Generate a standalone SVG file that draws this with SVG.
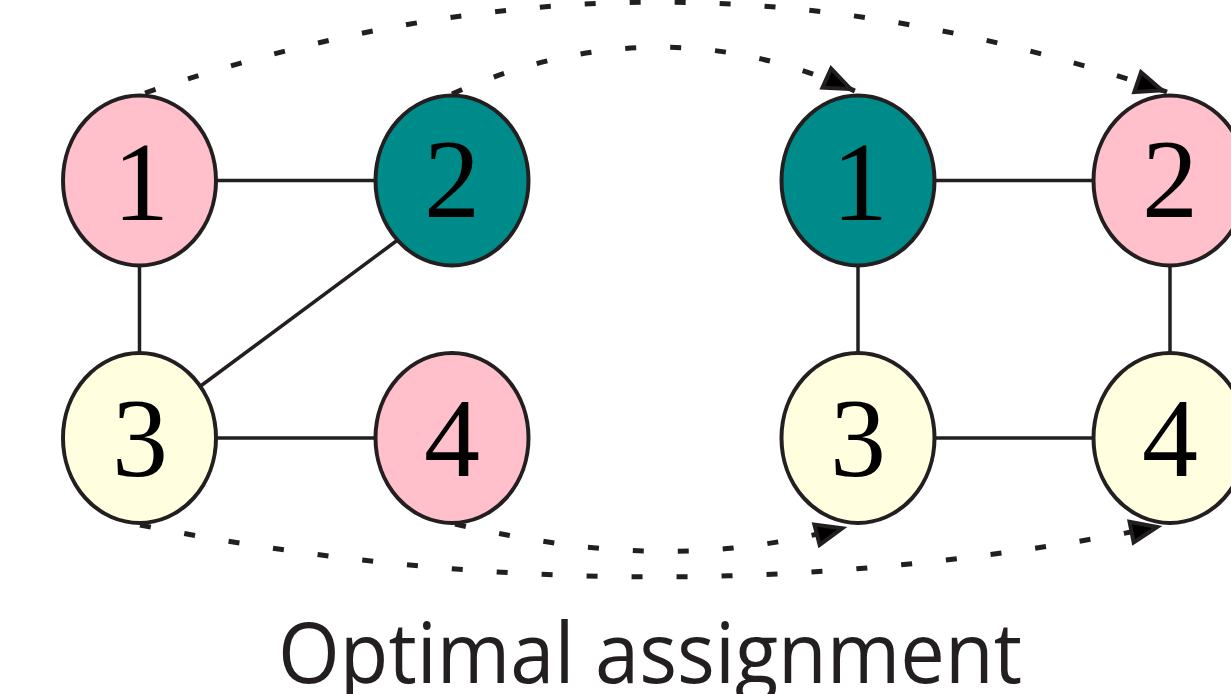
<svg xmlns="http://www.w3.org/2000/svg" width="1231" height="694" viewBox="0 0 1231 694">
<style>
.node{stroke:#231f20;stroke-width:4}
.pink{fill:#ffc0cb}
.teal{fill:#008b8b}
.yellow{fill:#ffffe0}
.lbl{font-family:"Liberation Serif","DejaVu Serif",serif;font-size:112px;fill:#000;text-anchor:middle}
.edge{stroke:#231f20;stroke-width:3.5;fill:none}
.dash{stroke:#231f20;stroke-width:5;fill:none;stroke-dasharray:11 34;marker-end:url(#arr)}
.title{font-family:"Open Sans","Noto Sans",sans-serif;font-size:84px;fill:#231f20}
</style>
<defs>
<marker id="arr" markerUnits="userSpaceOnUse" orient="auto" refX="0" refY="0" markerWidth="44" markerHeight="34" viewBox="-40 -17 44 34" overflow="visible">
<path d="M-5,0 L-31,-10.5 L-31,10.5 Z" fill="#000" stroke="#231f20" stroke-width="4" stroke-linejoin="miter" stroke-dasharray="none"/>
</marker>
</defs>
<rect width="1231" height="694" fill="#fff"/>
<g id="edges">
<line class="edge" x1="216" y1="180.5" x2="376" y2="180.5"/>
<line class="edge" x1="139.5" y1="264" x2="139.5" y2="354"/>
<line class="edge" x1="397" y1="240.5" x2="200" y2="386.5"/>
<line class="edge" x1="216" y1="438" x2="376" y2="438"/>
<line class="edge" x1="934" y1="180.5" x2="1094" y2="180.5"/>
<line class="edge" x1="858" y1="264" x2="858" y2="354"/>
<line class="edge" x1="1170" y1="264" x2="1170" y2="354"/>
<line class="edge" x1="934" y1="438" x2="1094" y2="438"/>
</g>
<g id="L1"><ellipse class="node pink" cx="139.5" cy="180.5" rx="76.5" ry="85"/><text class="lbl" x="141" y="220">1</text></g>
<g id="L2"><ellipse class="node teal" cx="452" cy="180.5" rx="76.5" ry="85"/><text class="lbl" x="452" y="217">2</text></g>
<g id="L3"><ellipse class="node yellow" cx="139.5" cy="438" rx="76.5" ry="85"/><text class="lbl" x="140" y="476">3</text></g>
<g id="L4"><ellipse class="node pink" cx="452" cy="438" rx="76.5" ry="85"/><text class="lbl" x="452" y="476">4</text></g>
<g id="R1"><ellipse class="node teal" cx="858" cy="180.5" rx="76.5" ry="85"/><text class="lbl" x="860" y="220">1</text></g>
<g id="R2"><ellipse class="node pink" cx="1170" cy="180.5" rx="76.5" ry="85"/><text class="lbl" x="1170" y="217">2</text></g>
<g id="R3"><ellipse class="node yellow" cx="858" cy="438" rx="76.5" ry="85"/><text class="lbl" x="858" y="476">3</text></g>
<g id="R4"><ellipse class="node yellow" cx="1170" cy="438" rx="76.5" ry="85"/><text class="lbl" x="1170" y="476">4</text></g>
<g id="connectors">
<path class="dash" d="M145,93 C501,-28 814,-28 1167,92"/>
<path class="dash" d="M452,94 C590,32 725,32 855,91"/>
<path class="dash" d="M140,525 C485,594 822,594 1162,526"/>
<path class="dash" d="M455,524 C610,560 720,560 847,527"/>
</g>
<text class="title" x="278" y="683" textLength="744" lengthAdjust="spacingAndGlyphs">Optimal assignment</text>
</svg>
